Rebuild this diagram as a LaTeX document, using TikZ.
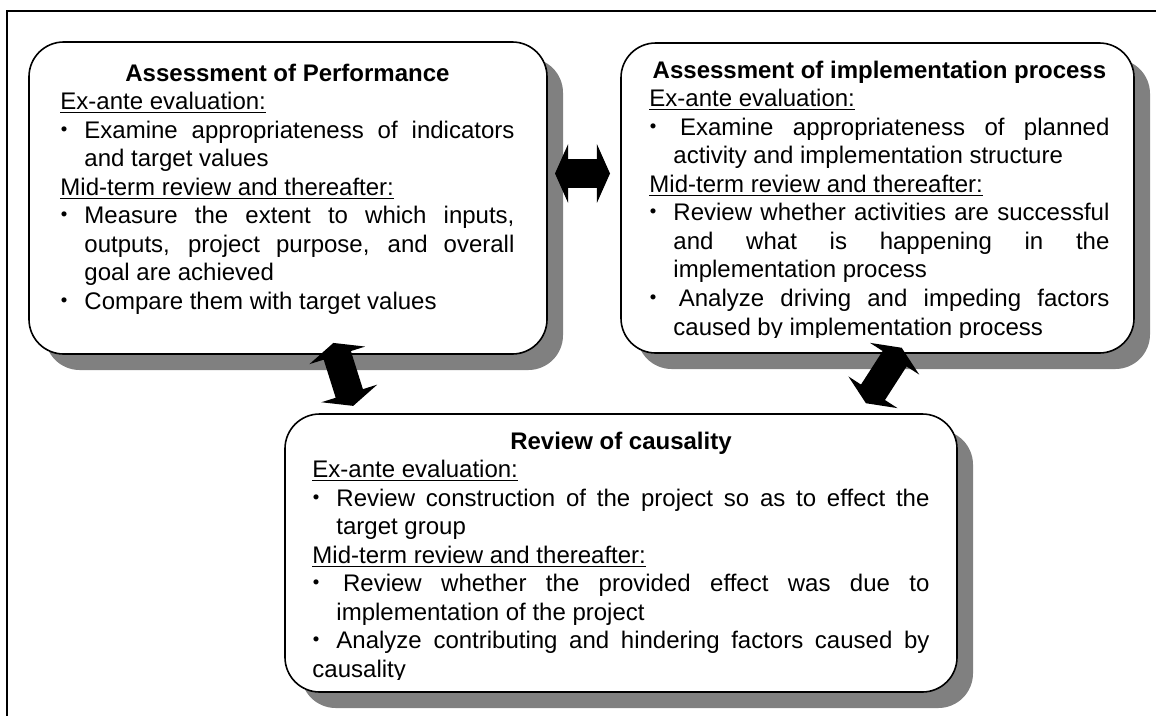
\documentclass[tikz,border=0pt]{standalone}
\usepackage{fontspec}
\setmainfont{Liberation Sans}
\newfontfamily\cjk{Noto Sans CJK JP}
\usepackage{tikz}
\usetikzlibrary{shapes.arrows}
\usetikzlibrary{shadows}
\usetikzlibrary{calc}

\newdimen\px \px=0.75pt
\newcommand{\bul}{\makebox[24\px][l]{\kern-6pt{\cjk ・}}}
\newcommand{\bpar}{\par\hangindent=24\px\hangafter=1\noindent\bul}
\newcommand{\uhead}[1]{\leavevmode\setbox0=\hbox{#1}\rlap{\rule[-2.8pt]{\wd0}{0.9pt}}\box0\par}
\newcommand{\phead}[1]{\makebox[\linewidth]{\bfseries #1}\par}

\tikzset{
  panel/.style={draw, line width=1.2pt, rounded corners=26pt, fill=white,
    drop shadow={shadow xshift=12pt, shadow yshift=-12pt, fill=gray, opacity=1}},
  paneltext/.style={inner sep=0pt, anchor=base west, align=justify,
    font=\fontsize{18}{21.4}\selectfont,
    execute at begin node={\parindent=0pt\parskip=0pt\tolerance=10000\hbadness=10000
      \hyphenpenalty=10000\exhyphenpenalty=10000}},
  dblarr/.style={double arrow, fill=black, draw=none, inner sep=0pt, inner ysep=14\px,
    minimum width=0pt, double arrow head extend=15\px, double arrow tip angle=132}
}

\begin{document}
\begin{tikzpicture}[x=0.75pt,y=-0.75pt]
\useasboundingbox (0,0) rectangle (1156,715);
% frame
\draw[line width=1.5pt] (7,725) -- (7,11) -- (1165,11);

% the three panels
\node[panel, minimum width=518\px, minimum height=312\px] (perf) at (288,198) {};
\node[panel, minimum width=513\px, minimum height=310\px] (impl) at (877.5,198) {};
\node[panel, minimum width=672\px, minimum height=278\px] (caus) at (621,553) {};

\node[paneltext, text width=454\px] (perfTxt) at ($(perf.north west)+(32,40)$) {%
\phead{Assessment of Performance}
\uhead{Ex-ante evaluation:}
\bpar Examine appropriateness of indicators\linebreak and target values\par
\uhead{Mid-term review and thereafter:}
\bpar Measure the extent to which inputs,\linebreak outputs, project purpose, and overall\linebreak goal are achieved
\bpar Compare them with target values\par};

\begin{scope}
\clip (impl.north west) rectangle ($(impl.south east)+(0,-16)$);
\node[paneltext, text width=460\px] (implTxt) at ($(impl.north west)+(29,36)$) {%
\phead{Assessment of implementation process}
\uhead{Ex-ante evaluation:}
\bpar\hspace{5pt}Examine appropriateness of planned\linebreak activity and implementation structure\par
\uhead{Mid-term review and thereafter:}
\bpar Review whether activities are successful\linebreak and what is happening in the\linebreak implementation process
\bpar\hspace{4pt}Analyze driving and impeding factors\linebreak caused by implementation process\par};
\end{scope}

\begin{scope}
\clip (caus.north west) rectangle ($(caus.south east)+(0,-13)$);
\node[paneltext, text width=617\px] (causTxt) at ($(caus.north west)+(28,36)$) {%
\phead{Review of causality}
\uhead{Ex-ante evaluation:}
\bpar Review construction of the project so as to effect the\linebreak target group\par
\uhead{Mid-term review and thereafter:}
\bpar\hspace{5pt}Review whether the provided effect was due to\linebreak implementation of the project
\par\noindent\bul Analyze contributing and hindering factors caused by\linebreak causality\par};
\end{scope}

% block arrows
\node[dblarr, minimum height=55\px] (arrPI) at (582.5,173.5) {};
\node[dblarr, minimum height=66\px, rotate=-72.5] (arrPC) at (343.3,374.4) {};
\node[dblarr, minimum height=66\px, rotate=57.2] (arrIC) at (883.8,375.5) {};
\end{tikzpicture}
\end{document}
